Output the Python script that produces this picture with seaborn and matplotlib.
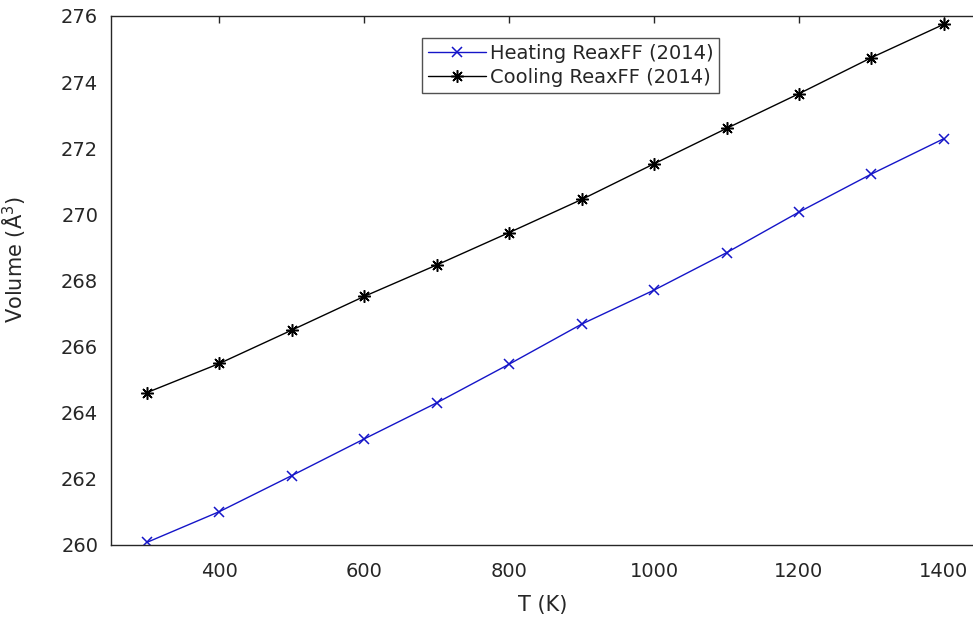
import matplotlib
matplotlib.use("Agg")
import matplotlib.pyplot as plt
import seaborn as sns
import pandas as pd

# Temperatures (K)
temperature = [300, 400, 500, 600, 700, 800, 900, 1000, 1100, 1200, 1300, 1400]

# Cell volume (Å^3) on heating and cooling
heating_volume = [260.08, 261.01, 262.10, 263.21, 264.30, 265.47, 266.68, 267.71,
                  268.84, 270.07, 271.22, 272.29]
cooling_volume = [264.61, 265.49, 266.50, 267.52, 268.47, 269.45, 270.45, 271.53,
                  272.60, 273.65, 274.74, 275.75]

series_labels = ["Heating ReaxFF (2014)", "Cooling ReaxFF (2014)"]
x_ticks = [400, 600, 800, 1000, 1200, 1400]
y_ticks = [260, 262, 264, 266, 268, 270, 272, 274, 276]

sns.set_style("white")
plt.rcParams["font.family"] = ["DejaVu Sans"]
text_color = "#262626"
heat_color = "#1515c8"

fig = plt.figure(figsize=(9.73, 6.17), dpi=100)
ax = fig.add_axes([0.1138, 0.1167, 0.8935, 0.8574])

heat = pd.DataFrame({"T": temperature, "V": heating_volume})
cool = pd.DataFrame({"T": temperature, "V": cooling_volume})

sns.lineplot(data=heat, x="T", y="V", ax=ax, color=heat_color, marker="x",
             markersize=7, markeredgewidth=1.1, markeredgecolor=heat_color,
             linewidth=1.0, label=series_labels[0])
sns.lineplot(data=cool, x="T", y="V", ax=ax, color="black", marker=(8, 2, 0),
             markersize=9, markeredgewidth=1.1, markeredgecolor="black",
             linewidth=1.0, label=series_labels[1])

ax.set_xlim(250, 1450)
ax.set_ylim(260, 276)
ax.set_xticks(x_ticks)
ax.set_yticks(y_ticks)

for side in ["left", "right", "top", "bottom"]:
    ax.spines[side].set_visible(True)
    ax.spines[side].set_color(text_color)
    ax.spines[side].set_linewidth(1.0)

ax.tick_params(axis="both", which="major", direction="in", length=5, width=1.0,
               colors=text_color, labelsize=14, top=True, right=True)
ax.tick_params(axis="x", pad=12)
ax.tick_params(axis="y", pad=9)

ax.set_xlabel("T (K)", fontsize=15, color=text_color)
ax.set_ylabel("Volume (Å$^3$)", fontsize=15, color=text_color)
ax.xaxis.set_label_coords(0.497, -0.095)
ax.yaxis.set_label_coords(-0.095, 0.54)

leg = ax.legend(loc="upper left", bbox_to_anchor=(0.358, 0.958),
                borderaxespad=0, fontsize=14, frameon=True, fancybox=False,
                edgecolor=text_color, handlelength=3.0, handletextpad=0.2,
                labelspacing=0.25, borderpad=0.3)
leg.get_frame().set_linewidth(1.0)
for t in leg.get_texts():
    t.set_color(text_color)

fig.savefig("out.png", dpi=100)
